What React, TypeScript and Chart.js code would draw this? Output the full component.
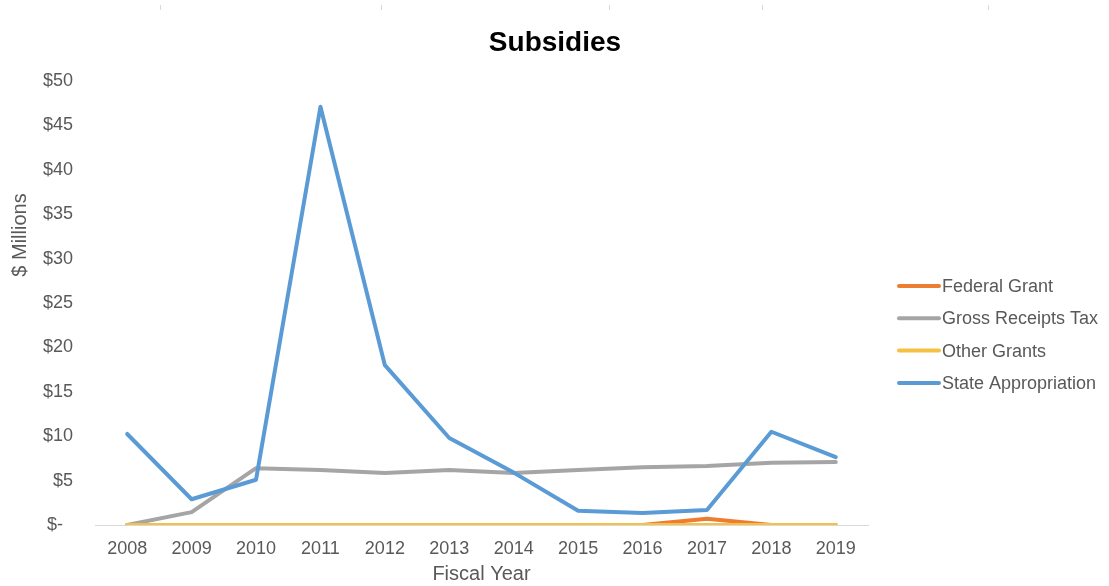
import React, { useEffect, useRef } from "react";
import { Chart, registerables } from "chart.js";

Chart.register(...registerables);

const years = ["2008", "2009", "2010", "2011", "2012", "2013", "2014", "2015", "2016", "2017", "2018", "2019"];
const federalGrant = [0, 0, 0, 0, 0, 0, 0, 0, 0, 0.7, 0, 0];
const grossReceiptsTax = [0, 1.45, 6.4, 6.2, 5.85, 6.2, 5.85, 6.2, 6.5, 6.65, 7.0, 7.1];
const otherGrants = [0, 0, 0, 0, 0, 0, 0, 0, 0, 0, 0, 0];
const stateAppropriation = [10.25, 2.9, 5.1, 47.1, 18.0, 9.8, 5.9, 1.6, 1.35, 1.7, 10.5, 7.65];
const seriesNames = ["Federal Grant", "Gross Receipts Tax", "Other Grants", "State Appropriation"];
const seriesColors = ["#ED7D31", "#A5A5A5", "#F6C143", "#5B9BD5"];
const yTicks = { min: 0, max: 50, step: 5 };

const FONT = '"Liberation Sans", Arial, Helvetica, sans-serif';
const TEXT = "#595959";

const overlay = {
  id: "overlay",
  afterDraw(chart: any) {
    const ctx = chart.ctx;
    const area = chart.chartArea;
    ctx.save();
    // faint marks at top
    ctx.strokeStyle = "#d9d9d9";
    ctx.lineWidth = 1;
    [160.5, 381.5, 609.5, 762.5, 988.5].forEach((x) => {
      ctx.beginPath();
      ctx.moveTo(x, 5);
      ctx.lineTo(x, 10);
      ctx.stroke();
    });
    // title
    ctx.fillStyle = "#000";
    ctx.font = `bold 28px ${FONT}`;
    ctx.textAlign = "center";
    ctx.textBaseline = "middle";
    ctx.fillText("Subsidies", 555, 43);
    // axis titles
    ctx.fillStyle = TEXT;
    ctx.font = `20px ${FONT}`;
    ctx.fillText("Fiscal Year", (area.left + area.right) / 2, 574);
    ctx.save();
    ctx.translate(20, 235);
    ctx.rotate(-Math.PI / 2);
    ctx.fillText("$ Millions", 0, 0);
    ctx.restore();
    // legend
    ctx.font = `18px ${FONT}`;
    ctx.textAlign = "left";
    chart.data.datasets.forEach((ds: any, i: number) => {
      const y = 286 + i * 32.3;
      ctx.strokeStyle = ds.borderColor;
      ctx.lineWidth = 4;
      ctx.lineCap = "round";
      ctx.beginPath();
      ctx.moveTo(899, y);
      ctx.lineTo(939, y);
      ctx.stroke();
      ctx.fillStyle = TEXT;
      ctx.fillText(ds.label, 942, y + 1);
    });
    ctx.restore();
  },
};

export default function App() {
  const ref = useRef<HTMLCanvasElement>(null);
  useEffect(() => {
    if (!ref.current) return;
    const values = [federalGrant, grossReceiptsTax, otherGrants, stateAppropriation];
    const orders = [4, 3, 2, 1];
    const chart = new Chart(ref.current, {
      type: "line",
      data: {
        labels: years,
        datasets: values.map((v, i) => ({
          label: seriesNames[i],
          data: v,
          borderColor: seriesColors[i],
          backgroundColor: seriesColors[i],
          borderWidth: 4,
          pointRadius: 0,
          tension: 0,
          borderCapStyle: "round",
          borderJoinStyle: "round",
          order: orders[i],
        })),
      },
      options: {
        responsive: false,
        animation: false,
        layout: { padding: { top: 81, right: 241, bottom: 0, left: 0 } },
        plugins: {
          legend: { display: false },
          title: { display: false },
          tooltip: { enabled: false },
        },
        scales: {
          x: {
            type: "category",
            offset: true,
            grid: { display: false, drawTicks: false },
            border: { display: true, color: "#d9d9d9", width: 1 },
            ticks: { color: TEXT, font: { size: 18, family: FONT }, padding: 13, maxRotation: 0 },
            afterFit: (s: any) => {
              s.height = 61;
            },
          },
          y: {
            min: yTicks.min,
            max: yTicks.max,
            grid: { display: false, drawTicks: false },
            border: { display: false },
            ticks: {
              stepSize: yTicks.step,
              color: TEXT,
              font: { size: 18, family: FONT },
              padding: 22,
              callback: (v: any) => (Number(v) === 0 ? "$-  " : "$" + v),
            },
            afterFit: (s: any) => {
              s.width = 95;
            },
          },
        },
      },
      plugins: [overlay],
    });
    return () => chart.destroy();
  }, []);
  return (
    <div style={{ position: "fixed", left: 0, top: 0, width: 1109, height: 586, background: "#fff" }}>
      <canvas ref={ref} width={1109} height={586} style={{ display: "block" }} />
    </div>
  );
}
